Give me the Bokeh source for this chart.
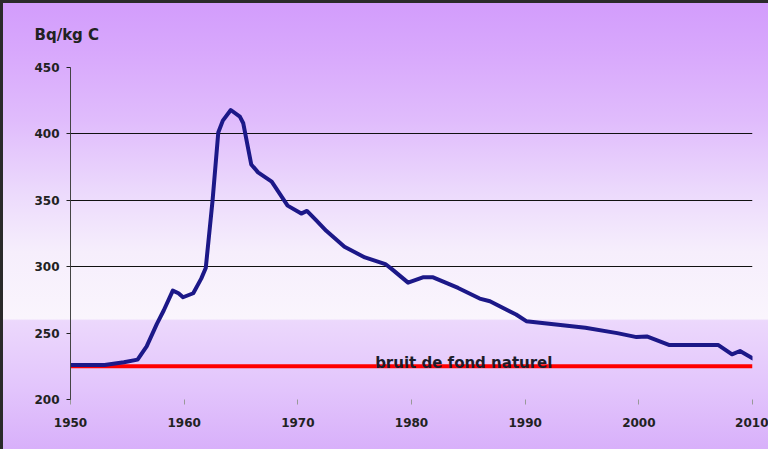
from bokeh.plotting import figure
from bokeh.models import FixedTicker, Label, Range1d
from bokeh.embed import file_html
from bokeh.resources import INLINE

# ---- data ----
years = [1950, 1953.0, 1954.7, 1955.9, 1956.7, 1957.6, 1958.2, 1959.0, 1959.5,
         1959.9, 1960.8, 1961.5, 1961.9, 1962.5, 1963.0, 1963.4, 1964.1, 1964.9,
         1965.2, 1965.9, 1966.5, 1967.7, 1969.1, 1970.3, 1970.8, 1971.6, 1972.5,
         1974.1, 1975.9, 1977.7, 1978.3, 1979.7, 1981.0, 1981.9, 1984.1, 1986.0,
         1986.9, 1989.2, 1990.1, 1992.1, 1995.3, 1998.1, 1999.8, 2000.7, 2002.7,
         2007.0, 2008.2, 2008.9, 2010.0]
bq_per_kg = [226, 226, 228, 230, 240, 257, 267, 282, 280,
             277, 280, 291, 299, 350, 401, 410, 418, 413,
             408, 377, 371, 364, 346, 340, 342, 335, 327,
             315, 307, 302, 298, 288, 292, 292, 284, 276,
             274, 264, 259, 257, 254, 250, 247, 247.5, 241,
             241, 234, 236.5, 231]

background_years = [1950, 2010]
background_level = [225, 225]
background_text = "bruit de fond naturel"
background_text_year = 1976.8

unit_label = "Bq/kg C"
x_ticks = [1950, 1960, 1970, 1980, 1990, 2000, 2010]
y_ticks = [200, 250, 300, 350, 400, 450]
grid_values = [300, 350, 400]

# ---- figure ----
p = figure(width=768, height=449, output_backend="svg", toolbar_location=None,
           x_range=Range1d(x_ticks[0], x_ticks[-1]),
           y_range=Range1d(y_ticks[0], y_ticks[-1]),
           min_border_left=70, min_border_top=67,
           min_border_right=16, min_border_bottom=50,
           title=unit_label)

p.title.align = "left"
p.title.vertical_align = "top"
p.title.offset = -36
p.title.standoff = 44
p.title.text_font = "DejaVu Sans"
p.title.text_font_style = "bold"
p.title.text_font_size = "15px"
p.title.text_color = "#222222"

p.background_fill_alpha = 0
p.border_fill_alpha = 0
p.outline_line_color = None
p.styles = {
    "background": ("linear-gradient(to bottom, #d29cfc 0%, #d8a8fc 11.6%, "
                   "#e0bcfc 27%, #ecdafc 43%, #f6eefc 56%, #faf5fd 71%, "
                   "#ecd8fc 71.4%, #e2c4fc 87%, #d8b0fa 100%)"),
    "box-shadow": "inset 3px 3px 0 #2a2a2a",
}

# grid
p.xgrid.visible = False
p.ygrid.ticker = FixedTicker(ticks=grid_values)
p.ygrid.grid_line_color = "#111111"
p.ygrid.grid_line_width = 1

# axes
p.xaxis.ticker = FixedTicker(ticks=x_ticks)
p.yaxis.ticker = FixedTicker(ticks=y_ticks)
for ax in (p.xaxis, p.yaxis):
    ax.minor_tick_line_color = None
    ax.major_label_text_font = "DejaVu Sans"
    ax.major_label_text_font_style = "bold"
    ax.major_label_text_font_size = "12px"
    ax.major_label_text_color = "#222222"

p.xaxis.axis_line_color = None
p.xaxis.major_tick_line_color = "#999999"
p.xaxis.major_tick_in = 0
p.xaxis.major_tick_out = 5
p.xaxis.major_label_standoff = 13

p.yaxis.axis_line_color = "#444444"
p.yaxis.axis_line_width = 1
p.yaxis.major_tick_line_color = "#222222"
p.yaxis.major_tick_in = 0
p.yaxis.major_tick_out = 4
p.yaxis.major_label_standoff = 7

# natural background line
p.line(background_years, background_level, line_color="#ff0000", line_width=4)

# measured curve
p.line(years, bq_per_kg, line_color="#1c1888", line_width=4,
       line_join="round", line_cap="round")

# annotation
p.add_layout(Label(x=background_text_year, y=background_level[0], text=background_text,
                   y_offset=3, text_font="DejaVu Sans", text_font_style="bold",
                   text_font_size="15px", text_color="#1c1c2a",
                   text_baseline="alphabetic"))

open("out.html", "w").write(file_html(p, INLINE))
